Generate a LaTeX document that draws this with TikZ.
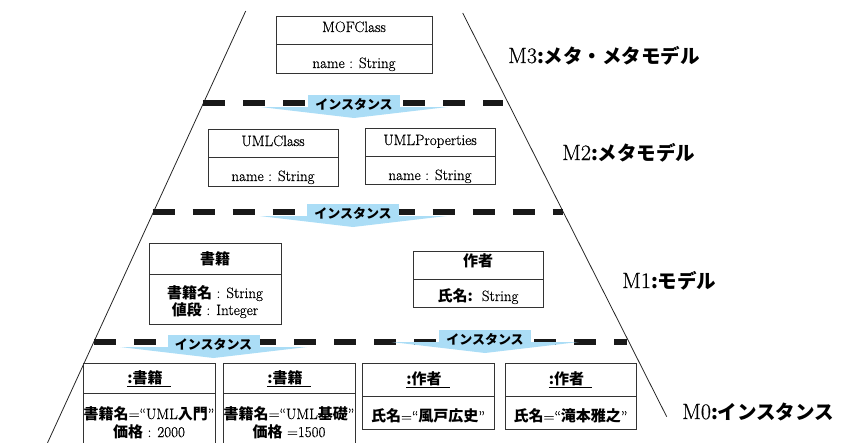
\documentclass[tikz,border=0pt]{standalone}
\usepackage{fontspec}
\newfontfamily\jp{Noto Sans CJK JP}
\newfontfamily\srf{Latin Modern Roman}[FakeBold=0.6]
\definecolor{instblue}{RGB}{171,221,246}
\newcommand\J[1]{{\jp\bfseries #1}}
\newcommand\JL[1]{{\fontsize{19.5}{22}\selectfont\jp\bfseries #1}}
\newcommand\instarrow[3]{%
  \fill[instfill] (#2-93.5,#3+4) -- (#2+93.5,#3+4) -- (#2,#3+15) -- cycle;
  \fill[instfill] (#2-46,#3-8.5) rectangle (#2+46,#3+7.5);
  \node[inst] (#1) at (#2,#3+1.5) {インスタンス};
}
\begin{document}
\begin{tikzpicture}[x=1pt,y=-1pt,
  side/.style={line width=0.8pt, draw=black!85},
  sepline/.style={line width=6pt, draw=black!90, dash pattern=on 22pt off 18pt},
  comp/.style={draw=black!80, line width=0.9pt, inner sep=0pt, outer sep=0pt, anchor=north west},
  lat/.style={font=\fontsize{15}{17}\selectfont\srf, inner sep=0pt, anchor=base},
  tit/.style={font=\fontsize{15}{17}\selectfont\jp\bfseries, inner sep=0pt, anchor=base},
  inst/.style={font=\fontsize{13}{15}\selectfont\jp\bfseries, inner sep=0pt},
  mlbl/.style={font=\fontsize{22}{24}\selectfont\srf, inner sep=0pt, anchor=base west},
  instfill/.style={fill=instblue}
]
\useasboundingbox (0,0) rectangle (853,442);
\clip (0,0) rectangle (853,442);

% trapezoid sides
\coordinate (LT) at (245.7,11);
\coordinate (LB) at (47,444);
\coordinate (RT) at (462.7,13);
\coordinate (RB) at (666.7,416.7);
\draw[side] (LT) -- (LB);
\draw[side] (RT) -- (RB);

% level separators
\coordinate (d1l) at (203,103);  \coordinate (d1r) at (503,103);
\coordinate (d2l) at (152.5,212); \coordinate (d2r) at (563,212);
\coordinate (d3l) at (94,342);   \coordinate (d3r) at (627,342);
\draw[sepline] (d1l) -- (d1r);
\draw[sepline] (d2l) -- (d2r);
\draw[sepline] (d3l) -- (d3r);

% instance arrows
\instarrow{i1}{354}{103}
\instarrow{i2}{353}{212}
\instarrow{i3}{213.5}{343}
\instarrow{i4}{485}{338}

% M3
\node[comp, minimum width=156pt, minimum height=28pt] (mofT) at (276,16) {};
\node[comp, minimum width=156pt, minimum height=29pt] (mofA) at (mofT.south west) {};
\node[lat] (mofN) at (354,32) {MOFClass};
\node[lat] (mofS) at (354,68) {name : String};

% M2
\node[comp, minimum width=130pt, minimum height=28pt] (ucT) at (208,129) {};
\node[comp, minimum width=130pt, minimum height=29pt] (ucA) at (ucT.south west) {};
\node[lat] (ucN) at (273,146) {UMLClass};
\node[lat] (ucS) at (273,181) {name : String};

\node[comp, minimum width=130pt, minimum height=28pt] (upT) at (365,128) {};
\node[comp, minimum width=130pt, minimum height=28pt] (upA) at (upT.south west) {};
\node[lat] (upN) at (430,145) {UMLProperties};
\node[lat] (upS) at (430,180) {name : String};

% M1
\node[comp, minimum width=132pt, minimum height=31pt] (bkT) at (149,243) {};
\node[comp, minimum width=132pt, minimum height=50pt] (bkA) at (bkT.south west) {};
\node[tit] (bkN) at (215,264) {書籍};
\node[lat] (bkS1) at (215,298) {\J{書籍名} : String};
\node[lat] (bkS2) at (215,315) {\J{値段} : Integer};

\node[comp, minimum width=130pt, minimum height=28pt] (auT) at (413,251) {};
\node[comp, minimum width=130pt, minimum height=28pt] (auA) at (auT.south west) {};
\node[tit] (auN) at (478,266.5) {作者};
\node[lat] (auS) at (478,301) {\J{氏名:}\ \ String};

% M0
\node[comp, minimum width=132pt, minimum height=30pt] (o1T) at (83,363) {};
\node[comp, minimum width=132pt, minimum height=70pt] (o1A) at (o1T.south west) {};
\node[tit] (o1N) at (149,383.5) {\underline{:書籍\hspace{8pt}}};
\node[lat] (o1S1) at (149,419) {\J{書籍名}=“UML\J{入門}”};
\node[lat] (o1S2) at (149,437) {\J{価格} : 2000};

\node[comp, minimum width=132pt, minimum height=30pt] (o2T) at (223,363) {};
\node[comp, minimum width=132pt, minimum height=70pt] (o2A) at (o2T.south west) {};
\node[tit] (o2N) at (289,383.5) {\underline{:書籍\hspace{8pt}}};
\node[lat] (o2S1) at (289,419) {\J{書籍名}=“UML\J{基礎}”};
\node[lat] (o2S2) at (289,437) {\J{価格} =1500};

\node[comp, minimum width=132pt, minimum height=33pt] (o3T) at (362,363) {};
\node[comp, minimum width=132pt, minimum height=33pt] (o3A) at (o3T.south west) {};
\node[tit] (o3N) at (428,384.5) {\underline{:作者\hspace{8pt}}};
\node[lat] (o3S) at (428,421.5) {\J{氏名}=“\J{風戸広史}”};

\node[comp, minimum width=131pt, minimum height=33pt] (o4T) at (505,363) {};
\node[comp, minimum width=131pt, minimum height=33pt] (o4A) at (o4T.south west) {};
\node[tit] (o4N) at (570.5,384.5) {\underline{:作者\hspace{8pt}}};
\node[lat] (o4S) at (570.5,421.5) {\J{氏名}=“\J{滝本雅之}”};

% level labels
\node[mlbl] (m3) at (508,63) {M3\JL{:メタ・メタモデル}};
\node[mlbl] (m2) at (562,160) {M2\JL{:メタモデル}};
\node[mlbl] (m1) at (622,288) {M1\JL{:モデル}};
\node[mlbl] (m0) at (682,419) {M0\JL{:インスタンス}};
\end{tikzpicture}
\end{document}
